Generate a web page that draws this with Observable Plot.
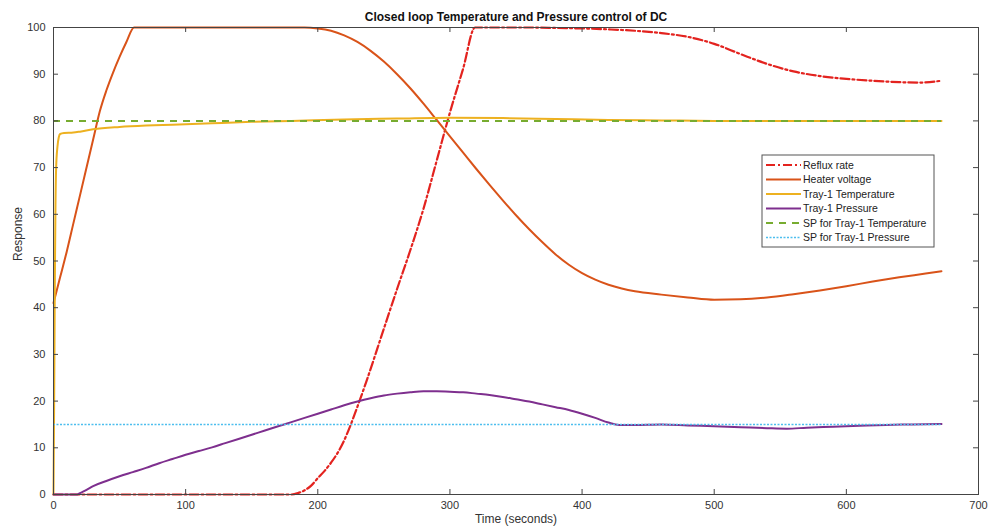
<!DOCTYPE html>
<html><head><meta charset="utf-8">
<script src="https://cdn.jsdelivr.net/npm/d3@7"></script>
<script src="https://cdn.jsdelivr.net/npm/@observablehq/plot@0.6"></script>
<style>
body{margin:0;background:#fff;font-family:"Liberation Sans",Arial,sans-serif;}
#chart{width:995px;height:528px;}
</style></head><body><div id="chart"></div>
<script>
const chartTitle = "Closed loop Temperature and Pressure control of DC";
const xLabel = "Time (seconds)";
const yLabel = "Response";
const xTicks = [0, 100, 200, 300, 400, 500, 600, 700];
const yTicks = [0, 10, 20, 30, 40, 50, 60, 70, 80, 90, 100];
const seriesNames = ["Reflux rate", "Heater voltage", "Tray-1 Temperature", "Tray-1 Pressure", "SP for Tray-1 Temperature", "SP for Tray-1 Pressure"];

// [time (s), value]
const refluxRate = [[0,0],[180,0],[185,0.3],[190,0.9],[195,1.9],[200,3.5],[205,5],[210,6.8],[215,8.9],[220,11.6],[225,15],[230,18.8],[237,24.4],[250,35.5],[260,44],[270,52.3],[280,61.2],[290,71.5],[300,81.8],[310,91.2],[319,100],[340,100],[360,100],[380,99.9],[400,99.8],[420,99.6],[440,99.3],[460,98.8],[480,98],[500,96.5],[520,94.3],[540,92.2],[560,90.6],[580,89.6],[600,89],[620,88.6],[640,88.3],[655,88.2],[672,88.6]];
const heaterVoltage = [[0,41],[5,46.5],[10,52],[15,58],[20,64],[25,70],[30,76],[35,82],[40,86.5],[45,90.3],[50,93.7],[55,96.8],[61,100],[100,100],[150,100],[190,100],[200,99.8],[210,99.3],[220,98.3],[230,96.9],[240,95],[250,92.7],[260,90],[270,87],[280,83.7],[290,80.2],[300,76.7],[310,73.2],[320,69.7],[330,66.3],[340,63],[350,59.8],[360,56.8],[370,54],[380,51.4],[390,49.2],[400,47.4],[410,46],[420,44.9],[430,44.1],[440,43.5],[460,42.8],[480,42.2],[500,41.7],[520,41.8],[540,42.2],[560,42.9],[580,43.7],[600,44.6],[620,45.6],[640,46.5],[660,47.3],[672,47.8]];
const trayTemperature = [[0,0],[0.5,20],[1,45],[1.5,62],[2,70],[3,74.5],[4,76.5],[5,77.2],[8,77.4],[15,77.5],[20,77.7],[30,78.2],[50,78.7],[70,79],[90,79.2],[120,79.5],[150,79.8],[180,80],[220,80.3],[260,80.5],[300,80.7],[340,80.6],[380,80.4],[420,80.2],[460,80.1],[500,80],[550,80],[600,80],[672,80]];
const trayPressure = [[0,0],[18,0],[20,0.3],[25,1],[30,1.8],[40,2.9],[50,3.9],[60,4.8],[70,5.7],[80,6.7],[90,7.6],[100,8.5],[110,9.3],[120,10.1],[130,11],[140,11.9],[150,12.8],[160,13.7],[170,14.6],[180,15.5],[190,16.4],[200,17.3],[210,18.2],[220,19.1],[230,19.9],[240,20.6],[250,21.2],[260,21.6],[270,21.9],[280,22.1],[290,22.1],[300,22],[310,21.9],[320,21.6],[330,21.3],[340,20.9],[350,20.4],[360,19.9],[370,19.3],[380,18.7],[390,18.1],[400,17.3],[410,16.4],[420,15.4],[428,14.9],[440,14.9],[460,15],[480,14.8],[500,14.6],[520,14.4],[540,14.2],[555,14.1],[570,14.3],[590,14.5],[610,14.7],[630,14.9],[650,15],[672,15.1]];
const spTemperature = 80;
const spPressure = 15;
const tEnd = 672;

const colors = ["#e3231f", "#D95319", "#EDB120", "#7E2F8E", "#77AC30", "#4DBEEE"];
const dashes = ["9,3,2,3", null, null, null, "7,6", "2,1.5"];
const widths = [2.2, 2, 2, 2, 2, 1.6];

const axisColor = "#444";
const plot = Plot.plot({
  width: 995, height: 528,
  marginLeft: 53, marginRight: 17, marginTop: 27, marginBottom: 34,
  style: {fontFamily: "'Liberation Sans', Arial, sans-serif", fontSize: "11px", color: "#333", background: "#fff"},
  x: {domain: [0, 700]},
  y: {domain: [0, 100]},
  marks: [
    Plot.axisX({ticks: xTicks, tickSize: 0, tickPadding: 7, label: null, fontSize: 11}),
    Plot.axisY({ticks: yTicks, tickSize: 0, tickPadding: 8, label: null, fontSize: 11}),
    Plot.line(refluxRate, {x: d => d[0], y: d => d[1], stroke: colors[0], strokeWidth: widths[0], strokeDasharray: dashes[0], curve: "monotone-x"}),
    Plot.line(heaterVoltage, {x: d => d[0], y: d => d[1], stroke: colors[1], strokeWidth: widths[1], curve: "monotone-x"}),
    Plot.line(trayTemperature, {x: d => d[0], y: d => d[1], stroke: colors[2], strokeWidth: widths[2], curve: "monotone-x"}),
    Plot.line(trayPressure, {x: d => d[0], y: d => d[1], stroke: colors[3], strokeWidth: widths[3], curve: "monotone-x"}),
    Plot.ruleY([spTemperature], {y: d => d, x1: 0, x2: tEnd, stroke: colors[4], strokeWidth: widths[4], strokeDasharray: dashes[4]}),
    Plot.ruleY([spPressure], {y: d => d, x1: 0, x2: tEnd, stroke: colors[5], strokeWidth: widths[5], strokeDasharray: dashes[5]}),
    Plot.frame({stroke: axisColor, strokeWidth: 1}),
    Plot.tickX(xTicks, {x: d => d, insetTop: 462, stroke: axisColor}),
    Plot.tickX(xTicks, {x: d => d, insetBottom: 462, stroke: axisColor}),
    Plot.tickY(yTicks, {y: d => d, insetRight: 920, stroke: axisColor}),
    Plot.tickY(yTicks, {y: d => d, insetLeft: 920, stroke: axisColor}),
    Plot.text([chartTitle], {text: d => d, frameAnchor: "top", dy: -15, fontWeight: "bold", fontSize: 12, fill: "#111"}),
    Plot.text([xLabel], {text: d => d, frameAnchor: "bottom", dy: 28, fontSize: 12, fill: "#333"}),
    Plot.text([yLabel], {text: d => d, frameAnchor: "left", dx: -35, rotate: -90, fontSize: 12, fill: "#333"})
  ]
});
document.getElementById("chart").appendChild(plot);

// legend inside the axes (like MATLAB)
const svg = d3.select(plot);
const lg = svg.append("g").attr("transform", "translate(762,155)");
const rowH = 14.5;
lg.append("rect").attr("x", 0).attr("y", 0).attr("width", 172).attr("height", 92)
  .attr("fill", "#fff").attr("stroke", "#555").attr("stroke-width", 1);
seriesNames.forEach((name, i) => {
  const y = 10 + i * rowH;
  lg.append("line").attr("x1", 4).attr("x2", 39).attr("y1", y).attr("y2", y)
    .attr("stroke", colors[i]).attr("stroke-width", widths[i])
    .attr("stroke-dasharray", dashes[i]);
  lg.append("text").attr("x", 41).attr("y", y).attr("dy", "0.35em")
    .attr("text-anchor", "start")
    .attr("font-size", "10.5px").attr("fill", "#222")
    .attr("font-family", "'Liberation Sans', Arial, sans-serif").text(name);
});
</script>
</body></html>
